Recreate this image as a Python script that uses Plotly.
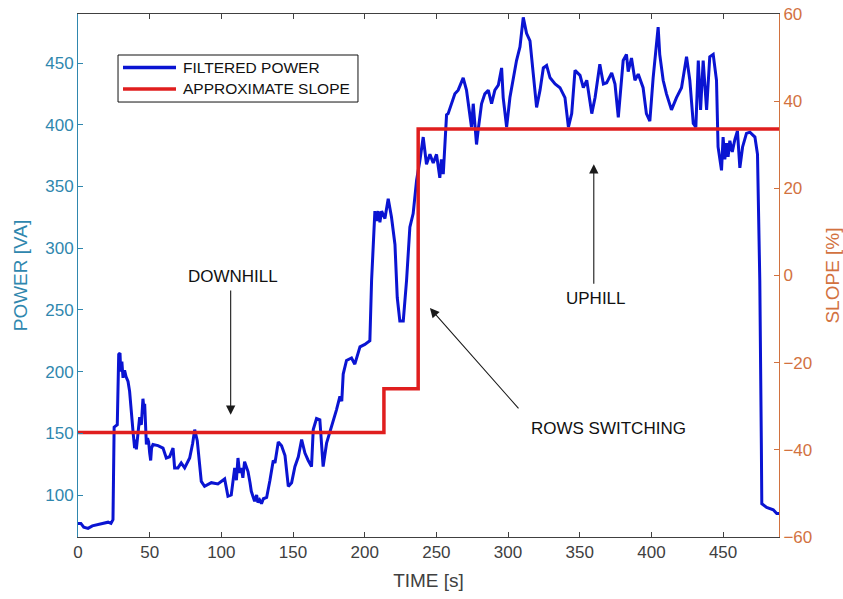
import plotly.graph_objects as go

# Filtered power trace, time in seconds and power in VA
time_s = [0, 2, 4, 7, 10, 14, 18, 21, 23, 24.4, 25.2, 27.4, 28.4, 29.3, 29.8, 30.6,
          31.4, 32.5, 33.5, 34.9, 36, 37.2, 38.5, 39.5, 40.2, 40.7, 41.8, 43, 43.6,
          44.2, 45.3, 46, 46.5, 47.7, 48.5, 49.3, 50, 50.7, 51.3, 52.3, 55.8, 59.3,
          61.6, 63.9, 66.3, 67.4, 69.7, 72, 74.4, 77.9, 80, 81.4, 83.2, 86, 88.3, 93,
          97.6, 102.3, 104.6, 106.9, 109.3, 110.5, 111.6, 112.7, 113.9, 115, 116.2,
          118.6, 120, 120.9, 122.3, 123.2, 124.6, 125.5, 126.7, 128, 129.3, 131.6,
          133.9, 136.2, 137.4, 139.7, 142, 144.4, 146.7, 149, 151.3, 153.7, 156,
          158.3, 160.6, 162.9, 164.1, 166.4, 168.7, 171, 173.4, 176.9, 180.3, 182.7,
          184, 185, 187.3, 190.8, 193.1, 196.7, 200.1, 203.6, 204.8, 207.1, 208.2,
          209.4, 210.6, 211.8, 214.1, 216.4, 218.7, 221.1, 222.7, 224.5, 226.9,
          229.2, 231.5, 233.8, 236.2, 238.5, 240.8, 243.1, 245.5, 247.8, 250.1,
          252.4, 253.5, 254.8, 255.9, 257.1, 258.2, 260.6, 262.9, 265.2, 268.7, 271,
          273.4, 274.5, 275.7, 278, 279.2, 281.5, 283.8, 286.2, 288.5, 290.8, 293.2,
          295.5, 296.6, 299, 301.3, 303.6, 305.9, 308.3, 310.6, 312.9, 315.3, 317.6,
          319.9, 322.3, 324.6, 326.9, 329.3, 332.8, 336.2, 339.7, 342.1, 344.4,
          346.7, 350.2, 352.5, 354.9, 358.4, 360.7, 364, 366.5, 368.8, 372.3, 374.6,
          376.9, 378, 380.3, 382.6, 383.8, 386.1, 388.5, 390.8, 394.2, 396.5, 398.9,
          401.2, 403.5, 404.7, 405.8, 408.2, 410.5, 414, 417.5, 421, 424.5, 426.8,
          429.2, 431, 432.7, 434.3, 436.1, 438.5, 440.7, 443.1, 445.4, 446.5, 448.9,
          450, 451.2, 452.4, 453.5, 454.7, 456.4, 458.2, 460, 461.7, 463.6, 466.3,
          468.7, 472.2, 474, 475.6, 476.7, 477, 480.4, 483, 485, 487.4, 489]
power_va = [77, 77, 74, 73, 75, 76, 77, 78, 77, 80, 155, 157, 214, 215, 200, 208,
            195, 201, 196, 192, 184, 165, 150, 138, 145, 137, 152, 163, 158,
            157, 178, 170, 174, 141, 146, 143, 134, 128, 138, 141, 140, 138,
            130, 131, 138, 122, 122, 126, 122, 130, 142, 153, 144, 111, 107, 110,
            109, 113, 99, 100, 122, 112, 130, 118, 122, 114, 127,
            119, 110, 103, 98, 95, 100, 94, 96, 93, 97, 98,
            112, 128, 126, 143, 140, 132, 107, 110, 123, 131, 145,
            134, 128, 123, 153, 162, 161, 123, 142, 155, 169, 180,
            176, 198, 209, 211, 206, 220, 222, 225, 274, 330, 322,
            330, 321, 330, 324, 340, 325, 303, 260, 241, 241,
            274, 317, 328, 355, 371, 390, 368, 376, 369, 376,
            357, 372, 360, 385, 408, 409, 417, 425, 428, 438, 428,
            409, 398, 417, 384, 396, 417, 425, 428, 417, 428, 432,
            446, 422, 398, 422, 436, 452, 463, 487, 474, 468, 441,
            414, 428, 446, 448, 438, 433, 430, 422, 398, 409,
            444, 440, 430, 436, 409, 422, 449, 433, 434, 442, 433,
            406, 422, 452, 457, 443, 454, 436, 441, 430, 409, 403,
            438, 466, 479, 457, 436, 425, 412, 422, 430, 455, 436,
            401, 398, 452, 412, 452, 412, 455, 457, 436, 382, 363,
            390, 372, 385, 374, 387, 378, 388, 395, 365, 382, 393,
            394, 390, 376, 274, 139, 93, 90, 89, 88, 85, 85]

# Approximate slope (%), piecewise constant between switch times
slope_time_s = [0, 213.4, 237.3, 489]
slope_pct = [-36, -26, 33.6, 33.6]

x_ticks = [0, 50, 100, 150, 200, 250, 300, 350, 400, 450]
power_ticks = [100, 150, 200, 250, 300, 350, 400, 450]
slope_ticks = [-60, -40, -20, 0, 20, 40, 60]

POWER_NAME = "FILTERED POWER"
SLOPE_NAME = "APPROXIMATE SLOPE"
POWER_COLOR = "#0A14D2"
SLOPE_COLOR = "#E01E1E"
LEFT_COLOR = "#2F87AE"
RIGHT_COLOR = "#D2723F"
AXIS_GRAY = "#404040"
FONT = "Arial, Liberation Sans, Helvetica, sans-serif"

fig = go.Figure()
fig.add_trace(go.Scatter(
    x=time_s, y=power_va, mode="lines", name=POWER_NAME,
    line=dict(color=POWER_COLOR, width=3), yaxis="y"))
fig.add_trace(go.Scatter(
    x=slope_time_s, y=slope_pct, mode="lines", name=SLOPE_NAME,
    line=dict(color=SLOPE_COLOR, width=3.5, shape="hv"), yaxis="y2"))

# Text labels and arrows (positions in time / power units)
labels = [
    dict(text="DOWNHILL", x=108, y=276.7),
    dict(text="UPHILL", x=361, y=259.6),
    dict(text="ROWS SWITCHING", x=370, y=154.3),
]
arrows = [
    dict(tip=(106.5, 165), tail=(106.5, 267)),
    dict(tip=(359.8, 368), tail=(359.8, 270)),
    dict(tip=(245.5, 251.5), tail=(308.2, 169)),
]
annotations = []
for lab in labels:
    annotations.append(dict(
        x=lab["x"], y=lab["y"], xref="x", yref="y", text=lab["text"],
        showarrow=False, font=dict(family=FONT, size=17, color="#111111"),
        xanchor="center", yanchor="middle"))
for arw in arrows:
    annotations.append(dict(
        x=arw["tip"][0], y=arw["tip"][1], ax=arw["tail"][0], ay=arw["tail"][1],
        xref="x", yref="y", axref="x", ayref="y", text="", showarrow=True,
        arrowhead=2, arrowsize=1.7, arrowwidth=1.1, arrowcolor="#1a1a1a"))

# Boxed legend in the upper-left corner of the axes
legend_box = dict(x0=0.0571, x1=0.3994, y0=0.8317, y1=0.9216)
legend_rows = [(POWER_NAME, POWER_COLOR, 0.8977), (SLOPE_NAME, SLOPE_COLOR, 0.8566)]
shapes = [dict(type="rect", xref="paper", yref="paper", **legend_box,
               line=dict(color="#111111", width=1), fillcolor="white", layer="above")]
for name, color, yrow in legend_rows:
    shapes.append(dict(type="line", xref="paper", yref="paper",
                       x0=0.0642, x1=0.1398, y0=yrow, y1=yrow,
                       line=dict(color=color, width=3.5), layer="above"))
    annotations.append(dict(
        x=0.1469, y=yrow, xref="paper", yref="paper", text=name,
        showarrow=False, xanchor="left", yanchor="middle",
        font=dict(family=FONT, size=15.5, color="#111111")))

axis_common = dict(showgrid=False, zeroline=False, automargin=False,
                   ticks="inside", ticklen=5, showline=True, linewidth=1)

fig.update_layout(
    width=843, height=599,
    margin=dict(l=78, r=64, t=14, b=62),
    paper_bgcolor="white", plot_bgcolor="white",
    font=dict(family=FONT, size=17, color=AXIS_GRAY),
    showlegend=False,
    xaxis=dict(
        **axis_common, range=[0, 489], tickvals=x_ticks,
        tickcolor=AXIS_GRAY, linecolor=AXIS_GRAY, mirror="ticks",
        tickfont=dict(size=17, color=AXIS_GRAY),
        title=dict(text="TIME [s]", font=dict(size=19, color=AXIS_GRAY), standoff=12)),
    yaxis=dict(
        **axis_common, range=[66, 489.7], tickvals=power_ticks,
        tickcolor=LEFT_COLOR, linecolor=LEFT_COLOR,
        tickfont=dict(size=17, color=LEFT_COLOR),
        title=dict(text="POWER [VA]", font=dict(size=19, color=LEFT_COLOR), standoff=12)),
    yaxis2=dict(
        **axis_common, range=[-60, 60], tickvals=slope_ticks, overlaying="y",
        side="right", tickcolor=RIGHT_COLOR, linecolor=RIGHT_COLOR,
        tickfont=dict(size=17, color=RIGHT_COLOR),
        title=dict(text="SLOPE [%]", font=dict(size=19, color=RIGHT_COLOR), standoff=14)),
    shapes=shapes,
    annotations=annotations,
)

fig.write_html("out.html")
